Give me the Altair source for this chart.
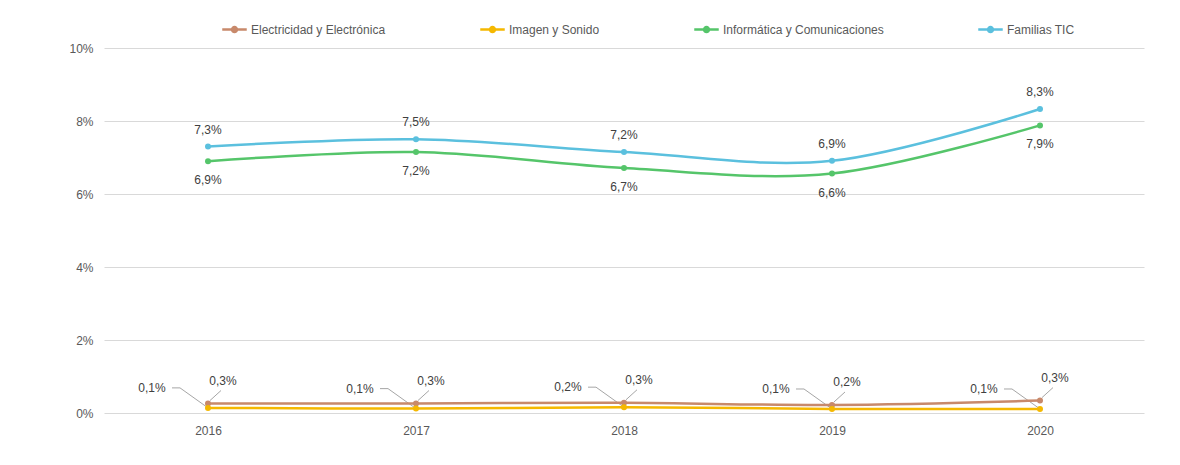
import altair as alt
import pandas as pd

years = ["2016", "2017", "2018", "2019", "2020"]
series = ["Electricidad y Electrónica", "Imagen y Sonido", "Informática y Comunicaciones", "Familias TIC"]
electricidad = [0.26, 0.26, 0.28, 0.22, 0.34]
imagen = [0.14, 0.12, 0.16, 0.11, 0.11]
informatica = [6.90, 7.15, 6.71, 6.56, 7.88]
familias = [7.30, 7.50, 7.15, 6.91, 8.33]
colors = ["#c8896b", "#f5b800", "#55c56a", "#5bc0de"]

vals = [electricidad, imagen, informatica, familias]
rows = []
for s, v in zip(series, vals):
    for y, x in zip(years, v):
        rows.append({"year": y, "serie": s, "v": x,
                     "label": f"{x:.1f}".replace(".", ",") + "%"})
df = pd.DataFrame(rows)

FONT = "Liberation Sans"
x = alt.X("year:N", sort=years, title=None,
          scale=alt.Scale(type="point", padding=0.5),
          axis=alt.Axis(labelAngle=0, domain=False, ticks=False, grid=False,
                        labelPadding=12, labelFontSize=12, labelColor="#595959", labelFont=FONT))
y = alt.Y("v:Q", title=None, scale=alt.Scale(domain=[0, 10]),
          axis=alt.Axis(values=[0, 2, 4, 6, 8, 10], labelExpr="datum.value + '%'",
                        domain=False, ticks=False, gridColor="#d9d9d9", gridWidth=1,
                        labelPadding=11, labelFontSize=12, labelColor="#595959", labelFont=FONT))

symbol_path = "M-1,0L1,0M0.2,0A0.2,0.2,0,1,1,-0.2,0A0.2,0.2,0,1,1,0.2,0Z"
color = alt.Color("serie:N", sort=series, title=None,
                  scale=alt.Scale(domain=series, range=colors),
                  legend=alt.Legend(orient="none", legendX=117, legendY=-32, direction="horizontal",
                                    columnPadding=89, symbolType=symbol_path, symbolSize=600,
                                    symbolStrokeWidth=2.5, labelFontSize=12, labelColor="#595959",
                                    labelFont=FONT, labelOffset=3, labelLimit=300))

base = alt.Chart(df)
lines = base.mark_line(interpolate="cardinal", strokeWidth=2.5).encode(x=x, y=y, color=color)
points = base.mark_circle(size=36, opacity=1).encode(x=x, y=y, color=color)

txt = dict(fontSize=12, font=FONT, color="#404040")
top_lbl = base.transform_filter(alt.datum.serie == "Familias TIC").mark_text(dy=-17, **txt).encode(x=x, y=y, text="label:N")
bot_lbl = base.transform_filter(alt.datum.serie == "Informática y Comunicaciones").mark_text(dy=19, **txt).encode(x=x, y=y, text="label:N")

elec = base.transform_filter(alt.datum.serie == "Electricidad y Electrónica")
img = base.transform_filter(alt.datum.serie == "Imagen y Sonido")
elec_lbl = elec.mark_text(dx=15, dy=-23, **txt).encode(x=x, y=y, text="label:N")
elec_lead = elec.mark_rule(color="#a6a6a6", strokeWidth=1, x2Offset=13, y2Offset=-13, xOffset=2, yOffset=-3).encode(
    x=x, y=y, x2=alt.X2("year"), y2=alt.Y2("v"))
img_lbl = img.mark_text(dx=-56, dy=-20, **txt).encode(x=x, y=y, text="label:N")
img_lead1 = img.mark_rule(color="#a6a6a6", strokeWidth=1, x2Offset=-28, y2Offset=-20).encode(
    x=x, y=y, x2=alt.X2("year"), y2=alt.Y2("v"))
img_lead2 = img.mark_rule(color="#a6a6a6", strokeWidth=1, xOffset=-28, yOffset=-20, x2Offset=-36, y2Offset=-20).encode(
    x=x, y=y, x2=alt.X2("year"), y2=alt.Y2("v"))

chart = alt.layer(elec_lead, img_lead1, img_lead2, lines, points, top_lbl, bot_lbl, elec_lbl, img_lbl).properties(
    width=1040, height=365,
    view=alt.ViewBackground(strokeOpacity=0, strokeWidth=0),
    autosize=alt.AutoSizeParams(type="none"),
    padding={"left": 96, "top": 40, "right": 28, "bottom": 44},
).configure_view(strokeWidth=0, strokeOpacity=0).configure(background="white")

chart.save("out.html", embed_options={"renderer": "svg", "actions": False})
